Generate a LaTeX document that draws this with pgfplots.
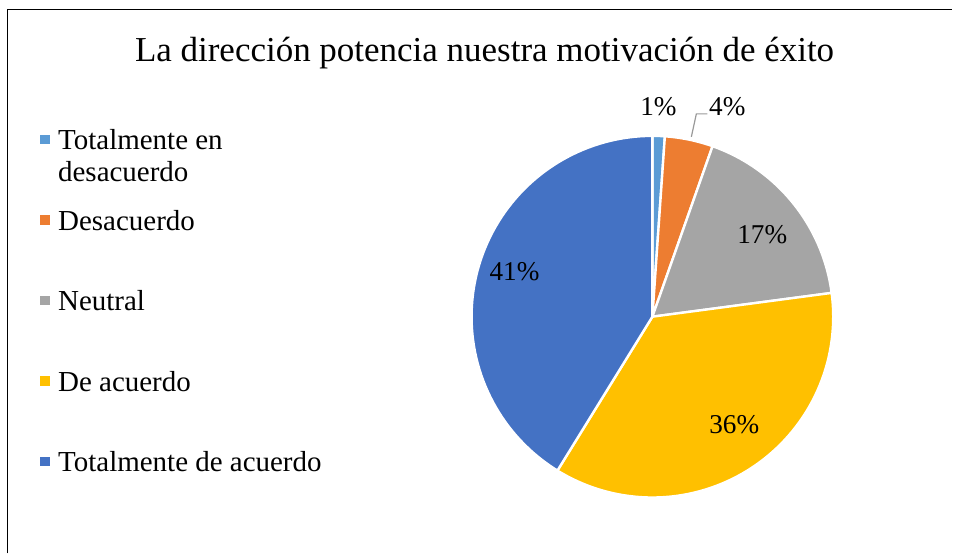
\documentclass[border=0pt]{standalone}
\usepackage{pgfplots}
\pgfplotsset{compat=1.18}
\usepackage{pgfplotstable}
\usepackage{fontspec}
\setmainfont{Liberation Serif}
\definecolor{cA}{HTML}{5B9BD5}
\definecolor{cB}{HTML}{ED7D31}
\definecolor{cC}{HTML}{A5A5A5}
\definecolor{cD}{HTML}{FFC000}
\definecolor{cE}{HTML}{4472C4}
\pgfplotstableread{
idx value
0 1.1
1 4.3
2 17.5
3 35.9
4 41.2
}\piedata
\pgfmathsetmacro\aA{0}
\pgfplotstablegetelem{0}{value}\of\piedata
\pgfmathsetmacro\aB{\aA+3.6*\pgfplotsretval}
\pgfplotstablegetelem{1}{value}\of\piedata
\pgfmathsetmacro\aC{\aB+3.6*\pgfplotsretval}
\pgfplotstablegetelem{2}{value}\of\piedata
\pgfmathsetmacro\aD{\aC+3.6*\pgfplotsretval}
\pgfplotstablegetelem{3}{value}\of\piedata
\pgfmathsetmacro\aE{\aD+3.6*\pgfplotsretval}
\pgfplotstablegetelem{4}{value}\of\piedata
\pgfmathsetmacro\aF{\aE+3.6*\pgfplotsretval}
\def\cx{653}
\def\cy{317}
\def\R{181}
\begin{document}
\begin{tikzpicture}
\begin{axis}[
  scale only axis, width=476.5pt, height=277pt,
  xmin=0, xmax=953, ymin=0, ymax=554, y dir=reverse,
  hide axis, clip=false,
  legend style={at={(axis cs:40,127)}, anchor=north west, draw=none, fill=none,
    inner sep=0pt, row sep=27.6pt, column sep=4pt,
    nodes={inner sep=0pt},
    font=\fontsize{14.5}{16}\selectfont},
  legend cell align=left,
  legend image code/.code={\path[#1, draw=none] (0pt,-2.2pt) rectangle (4.9pt,2.7pt);},
]
\path (axis cs:0,0) rectangle (axis cs:953,554);
\addplot[forget plot, black, line width=0.9pt] coordinates {(7.5,554) (7.5,9.5) (953,9.5)};
\addplot[fill=cA, draw=white, line width=1.2pt, domain=\aA:\aB, samples=10, variable=\t]
  ({\cx+\R*sin(\t)}, {\cy-\R*cos(\t)}) -- (axis cs:\cx,\cy) -- cycle;
\addlegendentry{\strut\smash{\parbox[t]{6cm}{Totalmente en\\desacuerdo}}}
\addplot[fill=cB, draw=white, line width=1.2pt, domain=\aB:\aC, samples=15, variable=\t]
  ({\cx+\R*sin(\t)}, {\cy-\R*cos(\t)}) -- (axis cs:\cx,\cy) -- cycle;
\addlegendentry{\strut Desacuerdo}
\addplot[fill=cC, draw=white, line width=1.2pt, domain=\aC:\aD, samples=40, variable=\t]
  ({\cx+\R*sin(\t)}, {\cy-\R*cos(\t)}) -- (axis cs:\cx,\cy) -- cycle;
\addlegendentry{\strut Neutral}
\addplot[fill=cD, draw=white, line width=1.2pt, domain=\aD:\aE, samples=70, variable=\t]
  ({\cx+\R*sin(\t)}, {\cy-\R*cos(\t)}) -- (axis cs:\cx,\cy) -- cycle;
\addlegendentry{\strut De acuerdo}
\addplot[fill=cE, draw=white, line width=1.2pt, domain=\aE:\aF, samples=80, variable=\t]
  ({\cx+\R*sin(\t)}, {\cy-\R*cos(\t)}) -- (axis cs:\cx,\cy) -- cycle;
\addlegendentry{\strut Totalmente de acuerdo}
\addplot[forget plot, gray!80, line width=0.6pt] coordinates {(708,114) (697,114) (692,137)};
\node[font=\fontsize{17.5}{20}\selectfont, anchor=base] at (axis cs:485,62) {La dirección potencia nuestra motivación de éxito};
\node[font=\fontsize{13.6}{16}\selectfont] at (axis cs:659,107) {1\%};
\node[font=\fontsize{13.6}{16}\selectfont] at (axis cs:728,107) {4\%};
\node[font=\fontsize{13.6}{16}\selectfont] at (axis cs:763,235) {17\%};
\node[font=\fontsize{13.6}{16}\selectfont] at (axis cs:735,425) {36\%};
\node[font=\fontsize{13.6}{16}\selectfont] at (axis cs:515,272) {41\%};
\end{axis}
\end{tikzpicture}
\end{document}
